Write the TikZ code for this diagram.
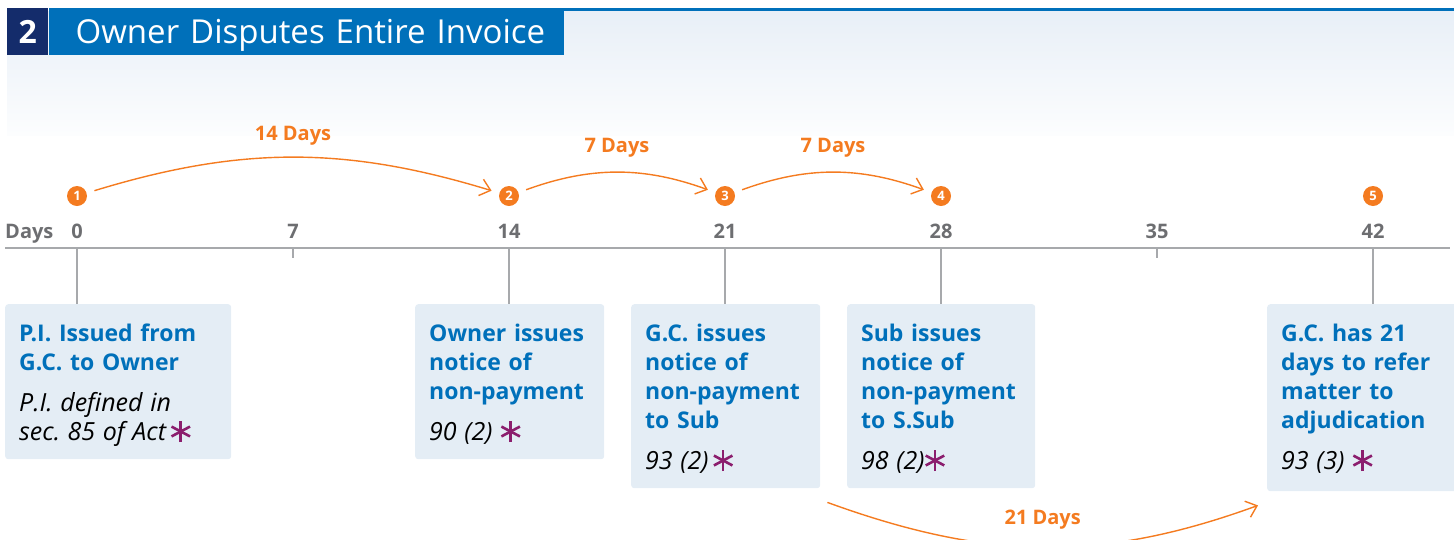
\documentclass[tikz,border=0pt]{standalone}
\usepackage{fontspec}
\setmainfont{Open Sans}
\usetikzlibrary{arrows.meta,positioning}

\definecolor{hdrnavy}{HTML}{142C6B}
\definecolor{hdrblue}{HTML}{0070BA}
\definecolor{shadetop}{HTML}{E8EFF7}
\definecolor{shadebot}{HTML}{FCFDFE}
\definecolor{boxfill}{HTML}{E4EDF5}
\definecolor{titleblue}{HTML}{0070BA}
\definecolor{dayorange}{HTML}{F47B20}
\definecolor{daygray}{HTML}{6D6E71}
\definecolor{axisgray}{HTML}{A7A9AC}
\definecolor{markpurple}{HTML}{8B1E6E}

\tikzset{
  panel/.style={fill=boxfill, rounded corners=3pt, anchor=north west, inner sep=0pt},
  paneltext/.style={anchor=base west, align=left, text width=195pt, inner sep=0pt,
    font=\fontsize{23}{29}\selectfont},
  marker/.style={circle, fill=dayorange, text=white, inner sep=0pt, minimum size=20pt,
    font=\fontsize{13}{13}\selectfont\bfseries},
  daylabel/.style={text=daygray, anchor=base, inner sep=0pt, font=\fontsize{20}{20}\selectfont\bfseries},
  span/.style={draw=dayorange, line width=1.4pt, -{Straight Barb[length=10pt,width=17pt]},
    shorten <=8pt, shorten >=8pt},
  spanlabel/.style={text=dayorange, inner sep=0pt, font=\fontsize{20}{20}\selectfont\bfseries},
  dropline/.style={draw=axisgray, line width=1.3pt},
}

% purple asterisk after each section reference
\newcommand{\actmark}{\tikz[baseline={(0,-8.5pt)}]{\foreach \a in {90,28,152}
  \draw[markpurple,line width=2.6pt] (\a:-10.5pt) -- (\a:10.5pt);}}
\newcommand{\notefont}{\fontsize{25}{29}\selectfont\itshape}

\begin{document}
\begin{tikzpicture}[x=1pt,y=1pt]
\useasboundingbox (0,0) rectangle (1454,-539);

% header band
\shade[top color=shadetop, bottom color=shadebot] (7,-11) rectangle (1454,-135);
\node[fill=hdrnavy, text=white, minimum width=41pt, minimum height=47pt, anchor=north west,
  inner sep=0pt, text depth=0pt, font=\fontsize{32}{32}\selectfont\bfseries] (hnum) at (7,-8) {2};
\node[fill=hdrblue, text=white, minimum height=47pt, anchor=north west, inner sep=0pt,
  text depth=0pt, text width=515pt, align=left, font=\fontsize{33}{33}\selectfont]
  (htitle) at (hnum.north east) {\hspace*{27pt}Owner Disputes Entire Invoice};
\fill[hdrblue] (htitle.north east) rectangle (1454,-11);

% axis and day numbers
\node[daylabel, anchor=base west] (dayslbl) at (5,-238) {Days};
\foreach \i in {0,...,6} {
  \pgfmathtruncatemacro{\dayno}{7*\i}
  \coordinate (t\i) at (77+216*\i,-248);
  \node[daylabel] (l\i) at (77+216*\i,-238) {\dayno};
}
\draw[draw=axisgray, line width=1.6pt] (5,-248) -- (1450,-248);
\draw[dropline] (t1) -- ++(0,-10);
\draw[dropline] (t5) -- ++(0,-10);

% event markers
\foreach \i/\n in {0/1,2/2,3/3,4/4,6/5}
  \node[marker] (m\n) at (77+216*\i,-196) {\n};

% panels
\node[panel, minimum width=226pt, minimum height=155pt] (b1) at (5,-304) {};
\node[panel, minimum width=189pt, minimum height=155pt] (b2) at (415,-304) {};
\node[panel, minimum width=189pt, minimum height=184pt] (b3) at (631,-304) {};
\node[panel, minimum width=188pt, minimum height=184pt] (b4) at (847,-304) {};
\node[panel, minimum width=200pt, minimum height=187pt] (b5) at (1267,-304) {};

\draw[dropline] (t0) -- (t0 |- b1.north);
\draw[dropline] (t2) -- (t2 |- b2.north);
\draw[dropline] (t3) -- (t3 |- b3.north);
\draw[dropline] (t4) -- (t4 |- b4.north);
\draw[dropline] (t6) -- (t6 |- b5.north);

\node[paneltext] (n1) at ([shift={(14,-37)}]b1.north west)
  {{\bfseries\color{titleblue}P.I. Issued from\\G.C. to Owner}\\[12pt]
   {\notefont P.I. defined in\\sec.\ 85 of Act\,\actmark}};
\node[paneltext] (n2) at ([shift={(14,-37)}]b2.north west)
  {{\bfseries\color{titleblue}Owner issues\\notice of\\non-payment}\\[12pt]
   {\notefont 90 (2) \actmark}};
\node[paneltext] (n3) at ([shift={(14,-37)}]b3.north west)
  {{\bfseries\color{titleblue}G.C. issues\\notice of\\non-payment\\to Sub}\\[12pt]
   {\notefont 93 (2)\,\actmark}};
\node[paneltext] (n4) at ([shift={(14,-37)}]b4.north west)
  {{\bfseries\color{titleblue}Sub issues\\notice of\\non-payment\\to S.Sub}\\[12pt]
   {\notefont 98 (2)\actmark}};
\node[paneltext] (n5) at ([shift={(14,-37)}]b5.north west)
  {{\bfseries\color{titleblue}G.C. has 21\\days to refer\\matter to\\adjudication}\\[12pt]
   {\notefont 93 (3) \actmark}};

% time spans
\draw[span] (m1) to[out=17,in=163] node[spanlabel, above=12pt] (s1) {14 Days} (m2);
\draw[span] (m2) to[out=20,in=160] node[spanlabel, above=15pt] (s2) {7 Days} (m3);
\draw[span] (m3) to[out=20,in=160] node[spanlabel, above=15pt] (s3) {7 Days} (m4);
\coordinate (c21a) at ([shift={(7,-14)}]b3.south east);
\coordinate (c21b) at ([shift={(-9,-14)}]b5.south west);
\draw[span, shorten <=0pt, shorten >=0pt] (c21a) to[out=-20,in=-160]
  node[spanlabel, above=17pt] (s4) {21 Days} (c21b);
\end{tikzpicture}
\end{document}
